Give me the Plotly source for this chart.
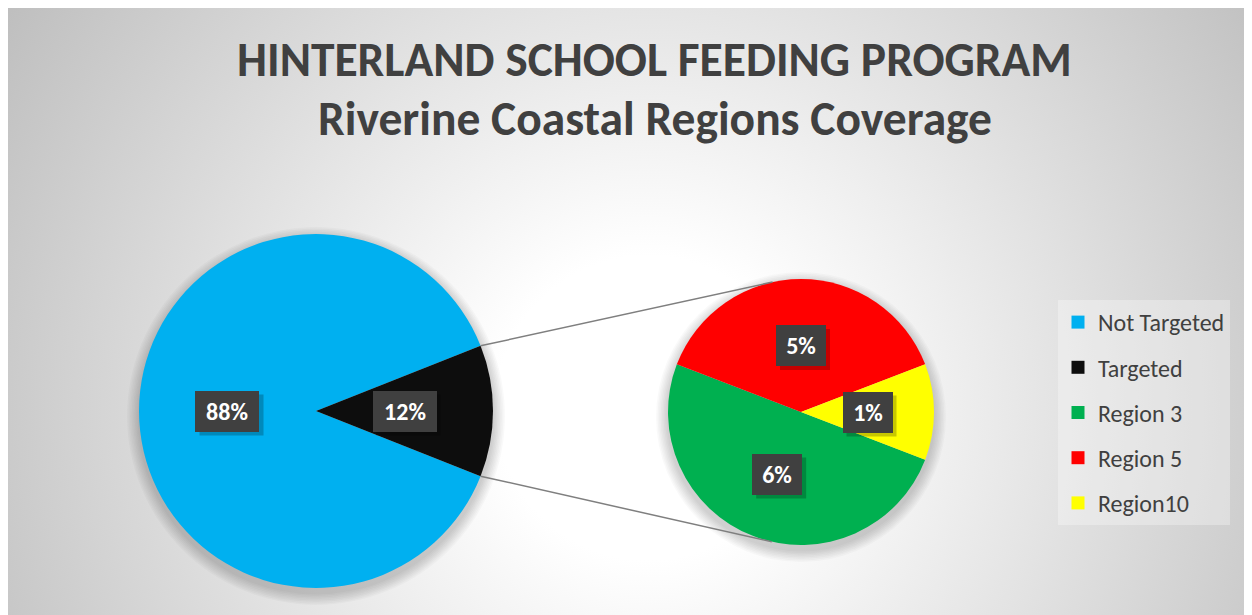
import math
import base64
import plotly.graph_objects as go

# ---------------- data ----------------
main_labels = ["Not Targeted", "Targeted"]
main_values = [88, 12]
main_colors = ["#00B0F0", "#0D0D0D"]

sub_labels = ["Region 3", "Region 5", "Region10"]
sub_values = [6.0, 4.6, 1.4]
sub_colors = ["#00B050", "#FF0000", "#FFFF00"]

title_line1 = "HINTERLAND SCHOOL FEEDING PROGRAM"
title_line2 = "Riverine Coastal Regions Coverage"

# ---------------- layout geometry (page pixels) ----------------
W, H = 1252, 615
OFF = 8  # page body margin
main_c, main_r = (316, 411), 177
sub_c, sub_r = (801, 412), 133
FONT = "Carlito, Lato, 'Open Sans', sans-serif"
TXT = "#404040"


def px(x):
    return (x - OFF) / W


def py(y):
    return 1 - (y - OFF) / H


def domain(c, r):
    return dict(x=[px(c[0] - r), px(c[0] + r)], y=[py(c[1] + r), py(c[1] - r)])


def rotation_for(values):
    # last slice centred on the right-hand horizontal
    return 90 + 0.5 * 360 * values[-1] / sum(values)


def slice_mids(values, rot):
    tot = sum(values)
    mids, acc = [], 0
    for v in values:
        mids.append(rot + (acc + v / 2) * 360 / tot)
        acc += v
    return mids


def clock_point(c, r, ang):
    a = math.radians(ang)
    return (c[0] + r * math.sin(a), c[1] - r * math.cos(a))


main_rot = rotation_for(main_values)
sub_rot = rotation_for(sub_values)

fig = go.Figure()

fig.add_trace(go.Pie(
    labels=main_labels, values=main_values, sort=False, direction="clockwise",
    rotation=main_rot, marker=dict(colors=main_colors, line=dict(width=0)),
    textinfo="none", showlegend=False, domain=domain(main_c, main_r),
    hoverinfo="label+percent"))

fig.add_trace(go.Pie(
    labels=sub_labels, values=sub_values, sort=False, direction="clockwise",
    rotation=sub_rot, marker=dict(colors=sub_colors, line=dict(width=0)),
    textinfo="none", showlegend=False, domain=domain(sub_c, sub_r),
    hoverinfo="label+value"))

# legend entries
for lab, col in zip(main_labels + sub_labels, main_colors + sub_colors):
    fig.add_trace(go.Scatter(
        x=[None], y=[None], mode="markers", name=lab, legendgroup=lab,
        marker=dict(symbol="square", size=13, color=col), showlegend=True))

# ---------------- shapes ----------------
shapes = []
# soft shadows behind pies
for c, r in [(main_c, main_r), (sub_c, sub_r)]:
    for k in range(1, 9):
        rr = r + k * 1.5
        cy = c[1] + 5
        shapes.append(dict(type="circle", xref="paper", yref="paper",
                           x0=px(c[0] - rr), x1=px(c[0] + rr),
                           y0=py(cy + rr), y1=py(cy - rr),
                           fillcolor="rgba(0,0,0,0.022)", line=dict(width=0),
                           layer="below"))

# connector lines (tangent from slice edges to secondary pie)
tot = sum(main_values)
t_start = main_rot + (tot - main_values[-1]) * 360 / tot
t_end = main_rot + 360
for ang, upper in [(t_start, True), (t_end, False)]:
    P = clock_point(main_c, main_r, ang)
    dx, dy = P[0] - sub_c[0], -(P[1] - sub_c[1])
    d = math.hypot(dx, dy)
    phi = math.atan2(dy, dx)
    alpha = math.acos(sub_r / d)
    cands = [phi - alpha, phi + alpha]
    th = max(cands, key=math.sin) if upper else min(cands, key=math.sin)
    T = (sub_c[0] + sub_r * math.cos(th), sub_c[1] - sub_r * math.sin(th))
    shapes.append(dict(type="line", xref="paper", yref="paper",
                       x0=px(P[0]), y0=py(P[1]), x1=px(T[0]), y1=py(T[1]),
                       line=dict(color="#7F7F7F", width=1.5), layer="above"))

# ---------------- annotations ----------------
ann = []
ann.append(dict(text=f"<b>{title_line1}</b>", x=px(654), y=py(60), xref="paper", yref="paper",
                showarrow=False, xanchor="center", yanchor="middle",
                font=dict(family=FONT, size=47.5, color=TXT)))
ann.append(dict(text=f"<b>{title_line2}</b>", x=px(655), y=py(119), xref="paper", yref="paper",
                showarrow=False, xanchor="center", yanchor="middle",
                font=dict(family=FONT, size=47.5, color=TXT)))


def add_label(c, r, ang, txt):
    x, y = clock_point(c, r * 0.5, ang)
    bw = 64 if len(txt) > 2 else 50
    bh = 41
    # drop shadow
    shapes.append(dict(type="rect", xref="paper", yref="paper",
                       x0=px(x - bw / 2 + 4), x1=px(x + bw / 2 + 4),
                       y0=py(y + bh / 2 + 4), y1=py(y - bh / 2 + 4),
                       fillcolor="rgba(0,0,0,0.22)", line=dict(width=0), layer="above"))
    ann.append(dict(text=f"<b>{txt}</b>", xref="paper", yref="paper", showarrow=False,
                    xanchor="center", yanchor="middle", borderpad=0, borderwidth=0,
                    width=bw, height=bh, align="center", valign="middle",
                    x=px(x), y=py(y), bgcolor="#404040",
                    font=dict(family=FONT, size=24, color="white")))


for v, a in zip(main_values, slice_mids(main_values, main_rot)):
    add_label(main_c, main_r, a, f"{v:.0f}%")
for v, a in zip(sub_values, slice_mids(sub_values, sub_rot)):
    add_label(sub_c, sub_r, a, f"{v:.0f}%")

# ---------------- background gradient ----------------
bw, bh = 1240, 609
svg = (f'<svg xmlns="http://www.w3.org/2000/svg" width="{bw}" height="{bh}" viewBox="0 0 {bw} {bh}">'
       f'<defs><radialGradient id="g" gradientUnits="userSpaceOnUse" cx="640" cy="400" r="760">'
       f'<stop offset="0" stop-color="#ffffff"/><stop offset="0.2" stop-color="#ffffff"/>'
       f'<stop offset="1" stop-color="#bebebe"/></radialGradient></defs>'
       f'<rect width="{bw}" height="{bh}" fill="url(#g)"/></svg>')
src = "data:image/svg+xml;base64," + base64.b64encode(svg.encode()).decode()

fig.update_layout(
    width=W, height=H,
    margin=dict(l=0, r=0, t=0, b=0),
    paper_bgcolor="white", plot_bgcolor="rgba(0,0,0,0)",
    xaxis=dict(visible=False), yaxis=dict(visible=False),
    images=[dict(source=src, xref="paper", yref="paper", x=px(8), y=py(8),
                 sizex=bw / W, sizey=bh / H, xanchor="left", yanchor="top",
                 sizing="stretch", layer="below")],
    shapes=shapes,
    annotations=ann,
    legend=dict(x=px(1058), y=py(300), xanchor="left", yanchor="top",
                bgcolor="rgba(255,255,255,0.3)", tracegroupgap=11,
                font=dict(family=FONT, size=24, color=TXT),
                itemclick=False, itemdoubleclick=False),
    showlegend=True,
)

fig.write_html("out.html")
